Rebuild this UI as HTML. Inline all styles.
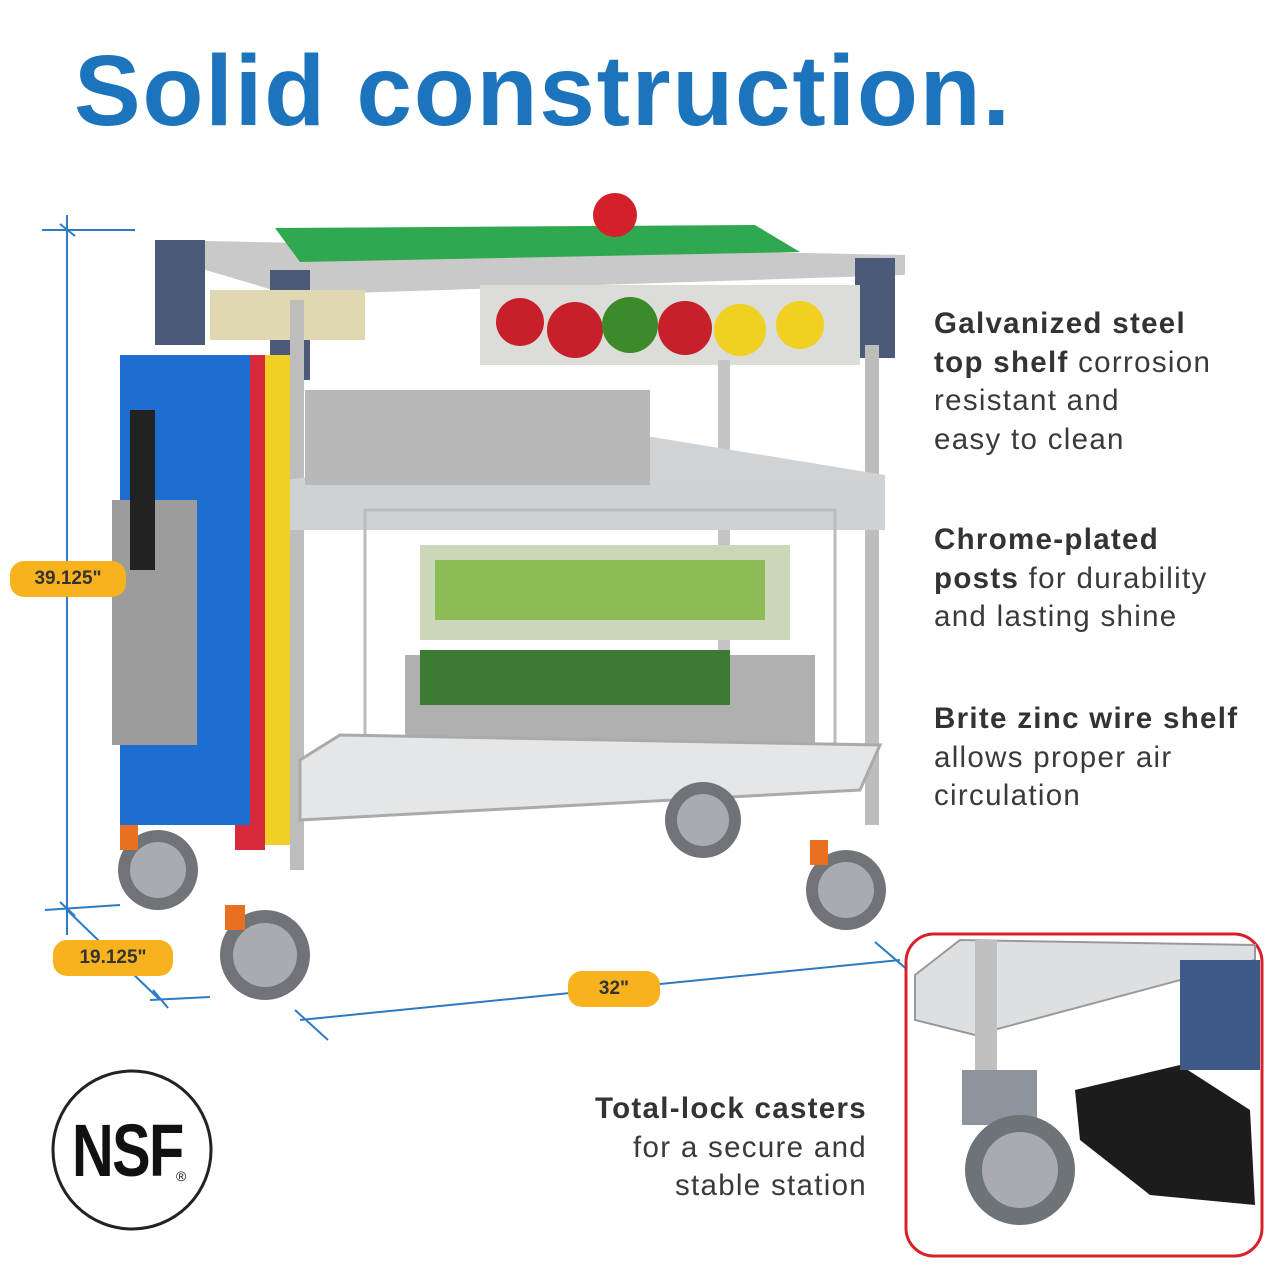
<!DOCTYPE html>
<html><head><style>
body{margin:0;width:1280px;height:1280px;background:#fff;position:relative;overflow:hidden;font-family:"Liberation Sans",sans-serif}
.t{position:absolute;color:#3a3a3a;font-size:29.5px;line-height:38.5px;letter-spacing:1.3px}
.t b{color:#333}
.pill{position:absolute;background:#f7b21e;border-radius:14px;color:#333;font-weight:bold;font-size:19px;text-align:center;line-height:36px;height:36px}
</style></head><body>
<div style="position:absolute;left:74px;top:34px;font-size:100px;font-weight:bold;color:#1c75bc;letter-spacing:1.7px">Solid construction.</div>
<svg width="1280" height="1280" style="position:absolute;left:0;top:0">
<g stroke="#2b7bc7" stroke-width="2" fill="none">
<line x1="67" y1="215" x2="67" y2="935"/><line x1="42" y1="230" x2="135" y2="230"/><line x1="60" y1="224" x2="75" y2="236"/>
<line x1="45" y1="910" x2="120" y2="905"/><line x1="60" y1="902" x2="75" y2="916"/>
<line x1="67" y1="910" x2="160" y2="1000"/><line x1="150" y1="1000" x2="210" y2="997"/><line x1="153" y1="990" x2="168" y2="1008"/>
<line x1="300" y1="1020" x2="900" y2="960"/><line x1="295" y1="1010" x2="328" y2="1040"/><line x1="875" y1="942" x2="910" y2="972"/>
</g>
<polygon points="155,240 905,255 905,275 290,295 155,255" fill="#c9c9c9"/>
<polygon points="275,228 755,225 800,252 300,262" fill="#2fa84f"/>
<circle cx="615" cy="215" r="22" fill="#d4202a"/>
<rect x="155" y="240" width="50" height="105" fill="#4a5a78"/>
<rect x="270" y="270" width="40" height="110" fill="#4a5a78"/>
<rect x="855" y="258" width="40" height="100" fill="#4a5a78"/>
<rect x="480" y="285" width="380" height="80" fill="#dcdcd8"/>
<circle cx="520" cy="322" r="24" fill="#c8202a"/><circle cx="575" cy="330" r="28" fill="#c8202a"/><circle cx="630" cy="325" r="28" fill="#3d8a2a"/><circle cx="685" cy="328" r="27" fill="#c8202a"/><circle cx="740" cy="330" r="26" fill="#f0d020"/><circle cx="800" cy="325" r="24" fill="#f0d020"/>
<rect x="210" y="290" width="155" height="50" fill="#e0d8b0"/>
<rect x="290" y="300" width="14" height="570" fill="#bdbdbd"/>
<rect x="865" y="345" width="14" height="480" fill="#bdbdbd"/>
<rect x="718" y="360" width="12" height="430" fill="#c4c4c4"/>
<polygon points="285,480 640,435 885,475 885,500 285,505" fill="#d0d3d6"/>
<rect x="285" y="480" width="600" height="50" fill="#cfd2d5"/>
<rect x="305" y="390" width="345" height="95" fill="#b8b8b8"/>
<rect x="420" y="545" width="370" height="95" fill="#cbd7b8"/>
<rect x="435" y="560" width="330" height="60" fill="#8dbb55"/>
<rect x="405" y="655" width="410" height="95" fill="#b0b0b0"/>
<rect x="420" y="650" width="310" height="55" fill="#3d7a33"/>
<rect x="365" y="510" width="470" height="240" fill="none" stroke="#bbb" stroke-width="3"/>
<polygon points="300,760 340,735 880,745 860,790 300,820" fill="#e4e6e8" stroke="#aaa" stroke-width="3"/>
<rect x="255" y="355" width="35" height="490" fill="#f0d024"/>
<rect x="235" y="355" width="30" height="495" fill="#d8283c"/>
<rect x="120" y="355" width="130" height="470" fill="#1e6dd0"/>
<rect x="112" y="500" width="85" height="245" fill="#9c9c9c"/>
<rect x="130" y="410" width="25" height="160" fill="#222"/>
<g fill="#707478"><circle cx="158" cy="870" r="40"/><circle cx="265" cy="955" r="45"/><circle cx="703" cy="820" r="38"/><circle cx="846" cy="890" r="40"/></g>
<g fill="#a8acb0"><circle cx="158" cy="870" r="28"/><circle cx="265" cy="955" r="32"/><circle cx="703" cy="820" r="26"/><circle cx="846" cy="890" r="28"/></g>
<g fill="#e87020"><rect x="120" y="825" width="18" height="25"/><rect x="225" y="905" width="20" height="25"/><rect x="810" y="840" width="18" height="25"/></g>
<rect x="906" y="934" width="356" height="322" rx="28" fill="#fff" stroke="#d8202a" stroke-width="3"/>
<polygon points="915,975 960,940 1255,945 1255,960 975,1035 915,1020" fill="#dde0e3" stroke="#999" stroke-width="2"/>
<rect x="975" y="940" width="22" height="130" fill="#c0c0c0"/>
<rect x="962" y="1070" width="75" height="55" fill="#8d949c"/>
<circle cx="1020" cy="1170" r="55" fill="#6e7378"/><circle cx="1020" cy="1170" r="38" fill="#a8acb0"/>
<path d="M1075,1090 L1180,1065 L1250,1110 L1255,1205 L1150,1195 L1080,1140Z" fill="#1c1c1c"/>
<rect x="1180" y="960" width="80" height="110" fill="#3c5a85"/>
<circle cx="132" cy="1150" r="79" fill="#fff" stroke="#222" stroke-width="3"/>
</svg>
<div style="position:absolute;left:72px;top:1108px;font-size:74px;font-weight:bold;color:#111;transform:scaleX(0.78);transform-origin:left;letter-spacing:-2px">NSF</div>
<div style="position:absolute;left:176px;top:1168px;font-size:14px;color:#111">®</div>
<div class="pill" style="left:10px;top:561px;width:116px">39.125"</div>
<div class="pill" style="left:53px;top:940px;width:120px">19.125"</div>
<div class="pill" style="left:568px;top:971px;width:92px">32"</div>
<div class="t" style="left:934px;top:305px"><b>Galvanized steel<br>top shelf</b> corrosion<br>resistant and<br>easy to clean</div>
<div class="t" style="left:934px;top:521px"><b>Chrome-plated<br>posts</b> for durability<br>and lasting shine</div>
<div class="t" style="left:934px;top:700px"><b>Brite zinc wire shelf</b><br>allows proper air<br>circulation</div>
<div class="t" style="left:540px;top:1090px;width:327px;text-align:right"><b>Total-lock casters</b><br>for a secure and<br>stable station</div>
</body></html>
